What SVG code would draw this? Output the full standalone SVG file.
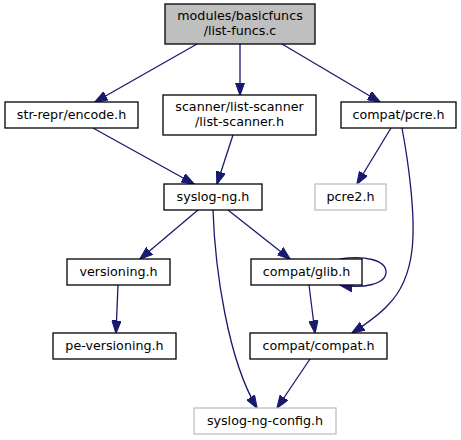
<svg xmlns="http://www.w3.org/2000/svg" width="461" height="440" viewBox="0 0 461 440">
<style>
.n rect{fill:#fff;stroke:#000;stroke-width:1.3}
.n.root rect{fill:#bfbfbf}
.n.ext rect{stroke:#bfbfbf}
text{font-family:"DejaVu Sans","Liberation Sans",sans-serif;font-size:12.7px;fill:#000;text-anchor:middle}
.e path{fill:none;stroke:#191970;stroke-width:1.3;marker-end:url(#ah)}
</style>
<defs>
<marker id="ah" markerUnits="userSpaceOnUse" markerWidth="13" markerHeight="10" viewBox="0 0 13 10" refX="12.5" refY="5" orient="auto">
<path d="M0,0.3 L13,5 L0,9.7 z" fill="#191970" stroke="#191970"/>
</marker>
</defs>
<g id="edges" class="e">
<path d="M197,44 L95,102"/>
<path d="M240,44 L240,95"/>
<path d="M282,44 L380,102"/>
<path d="M93,128 L194,184"/>
<path d="M233,135 L217,184"/>
<path d="M391,128 L357,184"/>
<path d="M402,128 C408,160 416,215 412,250 C409,275 400,293 388,305 C378,316 366,324 352,333"/>
<path d="M198,210 L140,259"/>
<path d="M228,210 L290,259"/>
<path d="M213,210 C215,270 228,360 257,408"/>
<path d="M340,259 C364,255 386,260 386,272 C386,284 364,289 340,285"/>
<path d="M309,285 L315,333"/>
<path d="M310,359 L277,408"/>
<path d="M118,285 L116,333"/>
</g>
<g id="root" class="n root"><rect x="165" y="4" width="150" height="40"/><text x="240" y="20">modules/basicfuncs</text><text x="240" y="35">/list-funcs.c</text></g>
<g id="encode" class="n"><rect x="5" y="102" width="133" height="26"/><text x="71.5" y="119">str-repr/encode.h</text></g>
<g id="scanner" class="n"><rect x="163" y="95" width="153" height="40"/><text x="239.5" y="111">scanner/list-scanner</text><text x="239.5" y="126">/list-scanner.h</text></g>
<g id="pcre" class="n"><rect x="341" y="102" width="115" height="26"/><text x="398.5" y="119">compat/pcre.h</text></g>
<g id="syslogng" class="n"><rect x="164" y="184" width="98" height="26"/><text x="213" y="201">syslog-ng.h</text></g>
<g id="pcre2" class="n ext"><rect x="315" y="184" width="71" height="26"/><text x="350.5" y="201">pcre2.h</text></g>
<g id="versioning" class="n"><rect x="67" y="259" width="103" height="26"/><text x="118.5" y="276">versioning.h</text></g>
<g id="glib" class="n"><rect x="251" y="259" width="111" height="26"/><text x="306.5" y="276">compat/glib.h</text></g>
<g id="peversioning" class="n"><rect x="53" y="333" width="123" height="26"/><text x="114.5" y="350">pe-versioning.h</text></g>
<g id="compat" class="n"><rect x="250" y="333" width="137" height="26"/><text x="318.5" y="350">compat/compat.h</text></g>
<g id="config" class="n ext"><rect x="194" y="408" width="142" height="26"/><text x="265" y="425">syslog-ng-config.h</text></g>
</svg>
